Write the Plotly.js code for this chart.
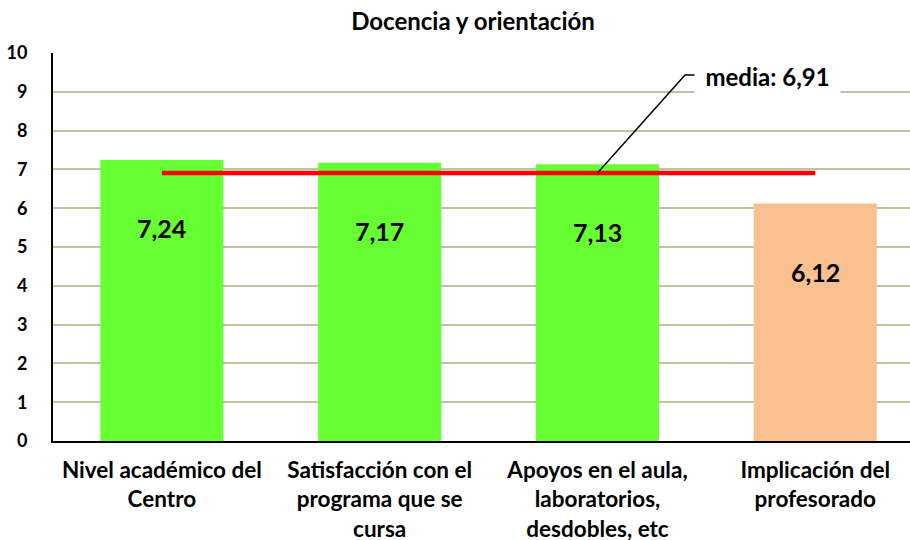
<!DOCTYPE html>
<html>
<head>
<meta charset="utf-8">
<script src="https://cdn.plot.ly/plotly-3.0.1.min.js"></script>
<style>html,body{margin:0;padding:0;background:#fff;}#chart{width:910px;height:540px;}</style>
</head>
<body>
<div id="chart"></div>
<script>
const categories = [
  "Nivel académico del<br>Centro",
  "Satisfacción con el<br>programa que se<br>cursa",
  "Apoyos en el aula,<br>laboratorios,<br>desdobles, etc",
  "Implicación del<br>profesorado"
];
const values = [7.24, 7.17, 7.13, 6.12];
const barColors = ["#66ff33", "#66ff33", "#66ff33", "#fac090"];
const mediaValue = 6.91;
const yTicks = [0,1,2,3,4,5,6,7,8,9,10];

const FONT = "Lato, 'Open Sans', sans-serif";
const fmt = v => v.toFixed(2).replace('.', ',');
const idx = categories.map((c, i) => i);

const bars = {
  type: 'bar', x: idx, y: values, width: 0.565,
  marker: {color: barColors},
  hoverinfo: 'skip', showlegend: false
};
const meanLine = {
  type: 'scatter', mode: 'lines',
  x: [idx[0], idx[idx.length-1]], y: [mediaValue, mediaValue],
  line: {color: '#ff0000', width: 4.5},
  hoverinfo: 'skip', showlegend: false
};

const valueAnns = values.map((v, i) => ({
  x: i, y: v, xref: 'x', yref: 'y', text: '<b>' + fmt(v) + '</b>',
  showarrow: false, yshift: -68,
  font: {family: FONT, size: 25, color: '#000'}
}));

const mediaAnn = {
  xref: 'paper', yref: 'paper', x: 0.834, y: 0.941,
  xanchor: 'center', yanchor: 'middle',
  text: '<b>media: ' + fmt(mediaValue) + '</b>', showarrow: false,
  bgcolor: '#ffffff', width: 143, height: 48,
  font: {family: FONT, size: 24, color: '#000'}
};

const layout = {
  width: 910, height: 540,
  margin: {l: 53, r: 0, t: 53, b: 99},
  paper_bgcolor: '#fff', plot_bgcolor: '#fff',
  font: {family: FONT, color: '#000'},
  title: {
    text: '<b>Docencia y orientación</b>',
    font: {family: FONT, size: 24, color: '#000'},
    x: 473/910, xref: 'container', xanchor: 'center',
    y: 1 - 22/540, yref: 'container', yanchor: 'middle'
  },
  xaxis: {
    range: [-0.5, 3.435], tickvals: idx, ticktext: categories.map(c => '<b>' + c.split('<br>').join('</b><br><b>') + '</b>'),
    showgrid: false, zeroline: false, showline: true, linecolor: '#000', linewidth: 2,
    ticks: 'outside', ticklen: 8, tickcolor: 'rgba(0,0,0,0)',
    tickfont: {family: FONT, size: 22.5, color: '#000'}, fixedrange: true
  },
  yaxis: {
    range: [0, 10], tickvals: yTicks, ticktext: yTicks.map(t => '<b>' + t + '</b>'),
    showgrid: true, gridcolor: '#c8bf9f', gridwidth: 2,
    zeroline: false, showline: true, linecolor: '#000', linewidth: 2,
    ticks: 'outside', ticklen: 20, tickcolor: 'rgba(0,0,0,0)',
    tickfont: {family: FONT, size: 18, color: '#000'}, fixedrange: true
  },
  shapes: [{
    type: 'path', xref: 'x', yref: 'y',
    path: 'M 2,' + mediaValue + ' L 2.402,9.43 L 2.46,9.43',
    line: {color: '#000', width: 1.5}
  }],
  annotations: valueAnns.concat([mediaAnn]),
  showlegend: false
};

Plotly.newPlot('chart', [bars, meanLine], layout, {displayModeBar: false, staticPlot: true});
</script>
</body>
</html>
